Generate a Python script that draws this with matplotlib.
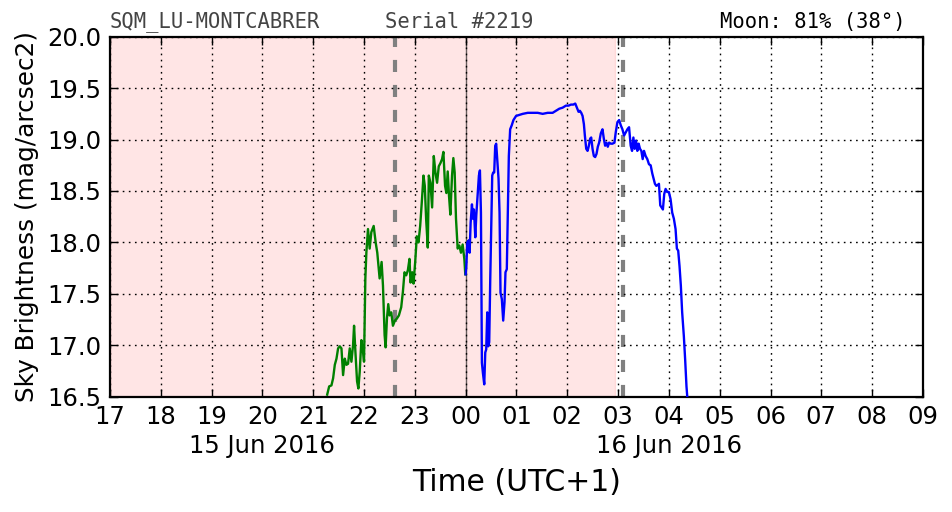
import numpy as np
import pandas as pd
import matplotlib
matplotlib.use('Agg')
import matplotlib.pyplot as plt
import matplotlib.dates as mdates

# time in decimal hours since 15 Jun 2016 00:00 (local, UTC+1)
green_t = [21.275, 21.314, 21.359, 21.392, 21.425, 21.458, 21.490, 21.523, 21.556, 21.588,
           21.621, 21.654, 21.686, 21.719, 21.752, 21.784, 21.804, 21.830, 21.863, 21.889,
           21.915, 21.948, 21.980, 22.000, 22.026, 22.046, 22.078, 22.111, 22.144, 22.190,
           22.229, 22.261, 22.307, 22.346, 22.373, 22.405, 22.425, 22.451, 22.477, 22.503,
           22.536, 22.569, 22.608, 22.647, 22.686, 22.732, 22.765, 22.797, 22.830, 22.863,
           22.895, 22.915, 22.948, 22.974, 23.007, 23.039, 23.072, 23.105, 23.137, 23.170,
           23.196, 23.222, 23.255, 23.275, 23.307, 23.340, 23.373, 23.405, 23.438, 23.471,
           23.503, 23.536, 23.562, 23.595, 23.621, 23.647, 23.673, 23.699, 23.732, 23.758,
           23.784, 23.810, 23.843, 23.876, 23.908, 23.941, 23.974, 23.993]
green_mag = [16.52, 16.60, 16.61, 16.68, 16.81, 16.87, 16.97, 16.99, 16.97, 16.71,
             16.87, 16.81, 16.82, 16.97, 16.84, 17.00, 17.19, 16.94, 16.65, 16.58,
             16.74, 17.05, 16.94, 16.84, 17.65, 17.90, 18.13, 17.94, 18.10, 18.16,
             18.00, 17.90, 17.65, 17.81, 17.58, 17.10, 16.98, 17.26, 17.40, 17.29,
             17.32, 17.19, 17.24, 17.26, 17.29, 17.37, 17.52, 17.71, 17.68, 17.73,
             17.84, 17.61, 17.71, 17.60, 17.81, 18.06, 18.00, 18.16, 18.39, 18.65,
             18.55, 18.23, 17.95, 18.65, 18.58, 18.34, 18.84, 18.68, 18.58, 18.74,
             18.77, 18.81, 18.88, 18.55, 18.48, 18.69, 18.45, 18.27, 18.65, 18.82,
             18.68, 18.23, 17.94, 17.97, 17.90, 17.98, 17.84, 17.69]

blue_t = [24.000, 24.013, 24.033, 24.059, 24.078, 24.098, 24.124, 24.144, 24.163, 24.190,
          24.209, 24.235, 24.261, 24.281, 24.301, 24.320, 24.340, 24.366, 24.386, 24.405,
          24.425, 24.444, 24.464, 24.484, 24.503, 24.523, 24.542, 24.562, 24.582, 24.601,
          24.621, 24.647, 24.667, 24.686, 24.712, 24.739, 24.765, 24.784, 24.810, 24.830,
          24.850, 24.876, 24.908, 24.941, 24.993, 25.059, 25.124, 25.222, 25.320, 25.418,
          25.516, 25.614, 25.712, 25.778, 25.843, 25.908, 25.974, 26.026, 26.072, 26.118,
          26.157, 26.190, 26.222, 26.248, 26.275, 26.301, 26.327, 26.346, 26.373, 26.399,
          26.425, 26.451, 26.471, 26.497, 26.523, 26.549, 26.575, 26.601, 26.627, 26.660,
          26.693, 26.719, 26.745, 26.771, 26.797, 26.824, 26.856, 26.889, 26.928, 26.954,
          26.987, 27.020, 27.052, 27.085, 27.118, 27.150, 27.183, 27.216, 27.248, 27.275,
          27.301, 27.327, 27.353, 27.379, 27.405, 27.431, 27.458, 27.484, 27.510, 27.542,
          27.575, 27.608, 27.641, 27.673, 27.699, 27.725, 27.752, 27.784, 27.804, 27.830,
          27.856, 27.882, 27.908, 27.935, 27.967, 28.000, 28.033, 28.065, 28.098, 28.131,
          28.157, 28.183, 28.209, 28.235, 28.261, 28.294, 28.320, 28.346, 28.366]
blue_mag = [17.69, 17.77, 18.00, 18.02, 17.90, 18.19, 18.37, 18.23, 18.32, 18.05,
            18.26, 18.45, 18.65, 18.70, 18.29, 16.83, 16.73, 16.62, 16.93, 16.96,
            17.32, 16.99, 17.03, 17.64, 18.13, 18.65, 18.68, 18.68, 18.94, 18.96,
            18.81, 18.62, 18.29, 17.51, 17.45, 17.24, 17.42, 17.71, 17.74, 18.29,
            18.84, 19.10, 19.14, 19.19, 19.23, 19.24, 19.25, 19.26, 19.26, 19.26,
            19.25, 19.26, 19.26, 19.28, 19.30, 19.31, 19.33, 19.33, 19.34, 19.34,
            19.35, 19.31, 19.27, 19.28, 19.26, 19.23, 19.15, 19.04, 18.91, 18.89,
            18.94, 19.01, 19.02, 18.91, 18.84, 18.83, 18.86, 18.93, 18.97, 19.06,
            19.10, 19.01, 18.94, 18.97, 18.93, 18.97, 18.96, 18.96, 18.97, 19.07,
            19.17, 19.19, 19.14, 19.10, 19.04, 19.07, 19.10, 19.12, 18.94, 18.89,
            19.02, 18.91, 18.99, 18.89, 18.96, 18.91, 18.89, 18.81, 18.89, 18.84,
            18.81, 18.76, 18.75, 18.67, 18.62, 18.57, 18.55, 18.56, 18.57, 18.36,
            18.34, 18.32, 18.47, 18.52, 18.49, 18.49, 18.42, 18.29, 18.23, 18.13,
            17.94, 17.92, 17.77, 17.58, 17.32, 17.09, 16.86, 16.60, 16.47]

twilight_end = 26.93      # pink (night) region ends ~02:56
astro_lines = [22.61, 27.09]
midnight = 24.0
date_labels = ['15 Jun 2016', '16 Jun 2016']
date_label_t = [20.0, 28.0]

day0 = pd.Timestamp('2016-06-15')
def to_dt(h):
    return day0 + pd.to_timedelta(np.asarray(h, dtype=float), unit='h')

fig = plt.figure(figsize=(9.52, 5.12), dpi=100)
ax = fig.add_axes([0.1155, 0.2252, 0.8540, 0.7031])

x0, x1 = to_dt(17.0), to_dt(33.0)
ax.axvspan(x0, to_dt(twilight_end), color='r', alpha=0.1, zorder=0)
ax.plot(to_dt(green_t), green_mag, color='green', lw=1.7, zorder=3)
ax.plot(to_dt(blue_t), blue_mag, color='blue', lw=1.7, zorder=3)
for t in astro_lines:
    ax.axvline(to_dt(t), color='gray', lw=3, dashes=(2.9, 3.1), zorder=2)
ax.axvline(to_dt(midnight), color='k', lw=1.0, alpha=0.6, zorder=2)

ax.set_xlim(x0, x1)
ax.set_ylim(16.5, 20.0)
ax.set_yticks(np.arange(16.5, 20.01, 0.5))
ax.yaxis.set_major_formatter(plt.FormatStrFormatter('%.1f'))
ax.xaxis.set_major_locator(mdates.HourLocator(interval=1))
ax.xaxis.set_major_formatter(mdates.DateFormatter('%H'))
ax.grid(True, color='k', lw=1.0, dashes=(1.2, 3.2), zorder=1)
ax.set_axisbelow(False)
ax.tick_params(direction='in', length=6, width=1, labelsize=17.5, pad=6,
               top=True, right=True)
for s in ax.spines.values():
    s.set_linewidth(1.6)

for lab, t in zip(date_labels, date_label_t):
    ax.annotate(lab, xy=(to_dt(t), 0), xycoords=('data', 'axes fraction'),
                xytext=(0, -35.5), textcoords='offset points',
                ha='center', va='center', fontsize=17.5)

ax.set_xlabel('Time (UTC+1)', fontsize=21.5, labelpad=28)
ax.set_ylabel('Sky Brightness (mag/arcsec2)', fontsize=17.8, labelpad=6)

fig.text(0.1155, 0.937, 'SQM_LU-MONTCABRER', family='DejaVu Sans Mono',
         fontsize=14.8, color='#444444', ha='left', va='bottom')
fig.text(0.404, 0.937, 'Serial #2219', family='DejaVu Sans Mono',
         fontsize=14.8, color='#444444', ha='left', va='bottom')
fig.text(0.951, 0.937, 'Moon: 81% (38°)', family='DejaVu Sans Mono',
         fontsize=14.8, color='black', ha='right', va='bottom')

plt.savefig('out.png', dpi=100)
